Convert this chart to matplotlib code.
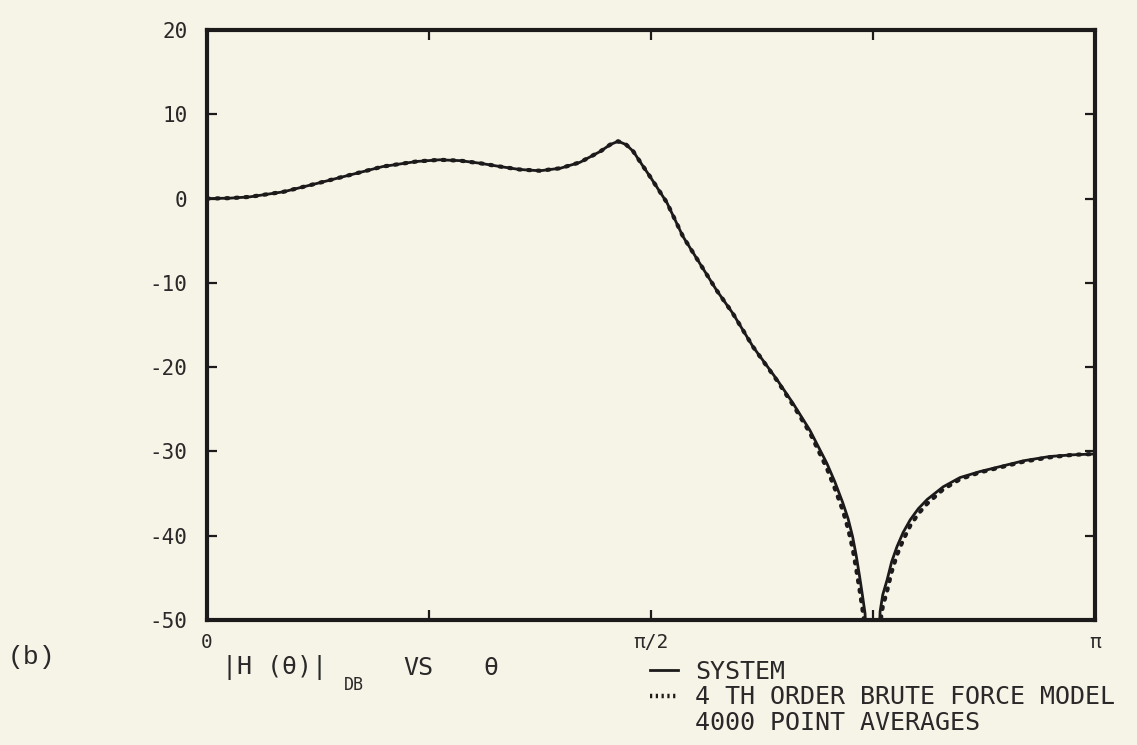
import numpy as np
import matplotlib
matplotlib.use("Agg")
import matplotlib.pyplot as plt
from matplotlib.lines import Line2D

# ---- data (theta in fractions of pi, magnitude in dB) ----
theta_frac = [0.000, 0.026, 0.048, 0.086, 0.124, 0.161, 0.198, 0.236, 0.262, 0.285,
              0.307, 0.330, 0.352, 0.375, 0.398, 0.420, 0.443, 0.454, 0.463, 0.472,
              0.480, 0.490, 0.499, 0.518, 0.536, 0.555, 0.574, 0.592, 0.615, 0.642,
              0.660, 0.679, 0.698, 0.707, 0.716, 0.722, 0.727, 0.731, 0.735, 0.738,
              0.741, 0.744, 0.7556, 0.758, 0.761, 0.766, 0.771, 0.777, 0.784, 0.792,
              0.801, 0.811, 0.829, 0.848, 0.870, 0.893, 0.920, 0.949, 0.975, 1.000]
system_db = [0.0, 0.05, 0.2, 0.8, 1.8, 2.8, 3.8, 4.4, 4.6, 4.5,
             4.2, 3.8, 3.45, 3.3, 3.6, 4.3, 5.6, 6.4, 6.8, 6.4,
             5.6, 4.0, 2.6, -0.5, -4.5, -7.7, -10.9, -13.6, -17.6, -21.5,
             -24.3, -27.5, -31.4, -33.6, -36.1, -38.0, -40.1, -42.3, -44.9, -47.0,
             -49.2, -55.0, -55.0, -49.0, -47.0, -45.2, -43.1, -41.3, -39.6, -38.1,
             -36.8, -35.7, -34.2, -33.1, -32.4, -31.8, -31.1, -30.6, -30.4, -30.3]
model_db = [0.0, 0.05, 0.2, 0.8, 1.8, 2.8, 3.8, 4.4, 4.6, 4.5,
            4.2, 3.8, 3.45, 3.3, 3.6, 4.3, 5.6, 6.4, 6.8, 6.4,
            5.6, 4.0, 2.6, -0.5, -4.5, -7.7, -10.9, -13.6, -17.6, -21.6,
            -24.5, -27.8, -32.0, -34.4, -37.0, -39.2, -41.5, -43.9, -46.5, -48.6,
            -51.0, -56.0, -56.0, -50.5, -48.4, -46.5, -44.3, -42.3, -40.5, -38.8,
            -37.4, -36.2, -34.5, -33.3, -32.5, -31.9, -31.2, -30.7, -30.4, -30.3]

y_ticks = [-50, -40, -30, -20, -10, 0, 10, 20]
y_tick_labels = ["-50", "-40", "-30", "-20", "-10", "0", "10", "20"]
x_major_frac = [0.0, 0.5, 1.0]
x_major_labels = ["0", "π/2", "π"]
x_minor_frac = [0.25, 0.75]

legend_labels = ["SYSTEM", "4 TH ORDER BRUTE FORCE MODEL", "4000 POINT AVERAGES"]

# ---- styling ----
BG = "#f6f4e7"
INK = "#1c1a1a"
TXT = "#2a2828"
W, H = 1137, 745
plt.rcParams["font.family"] = ["DejaVu Sans Mono", "DejaVu Sans"]

fig = plt.figure(figsize=(W / 100, H / 100), dpi=100, facecolor=BG)
L, R, T, B = 207, 1095, 30, 620
ax = fig.add_axes([L / W, 1 - B / H, (R - L) / W, (B - T) / H])
ax.set_facecolor(BG)

x = np.pi * np.asarray(theta_frac)
ax.plot(x, model_db, color=INK, lw=3.0, ls=(0, (0.5, 1.8)),
        dash_capstyle="round", zorder=3)
ax.plot(x, system_db, color=INK, lw=2.0, zorder=4, solid_joinstyle="round")

ax.set_xlim(0, np.pi)
ax.set_ylim(-50, 20)

for s in ax.spines.values():
    s.set_linewidth(3.0)
    s.set_color(INK)

ax.set_yticks(y_ticks)
ax.set_yticklabels(y_tick_labels)
ax.set_xticks(np.pi * np.asarray(x_major_frac))
ax.set_xticklabels(x_major_labels)
ax.set_xticks(np.pi * np.asarray(x_minor_frac), minor=True)

ax.tick_params(axis="both", which="both", direction="in", length=7, width=1.6,
               color=INK, top=True, right=True, labelcolor=TXT)
ax.tick_params(axis="y", labelsize=15, pad=14)
ax.tick_params(axis="x", labelsize=14, pad=9)

# axis caption
fig.text(222 / W, 1 - 668 / H, "|H (θ)|", fontsize=18, color=TXT,
         va="center", ha="left")
fig.text(344 / W, 1 - 685 / H, "DB", fontsize=12, color=TXT,
         va="center", ha="left")
fig.text(403 / W, 1 - 668 / H, "VS", fontsize=18, color=TXT,
         va="center", ha="left")
fig.text(483 / W, 1 - 668 / H, "θ", fontsize=18, color=TXT,
         va="center", ha="left")

fig.text(8 / W, 1 - 657 / H, "(b)", fontsize=19, family="Liberation Mono",
         color=TXT, va="center", ha="left")

# legend
handles = [
    Line2D([], [], color=INK, lw=2.0),
    Line2D([], [], color=INK, lw=3.2, ls=(0, (0.5, 0.8))),
    Line2D([], [], color="none", lw=0),
]
leg = fig.legend(handles, legend_labels, loc="upper left",
                 bbox_to_anchor=(650 / W, 1 - 660 / H), frameon=False,
                 fontsize=18, handlelength=1.1, handletextpad=0.7,
                 labelspacing=0.05, borderpad=0, borderaxespad=0)
for t in leg.get_texts():
    t.set_color(TXT)

fig.savefig("out.png", dpi=100, facecolor=BG)
